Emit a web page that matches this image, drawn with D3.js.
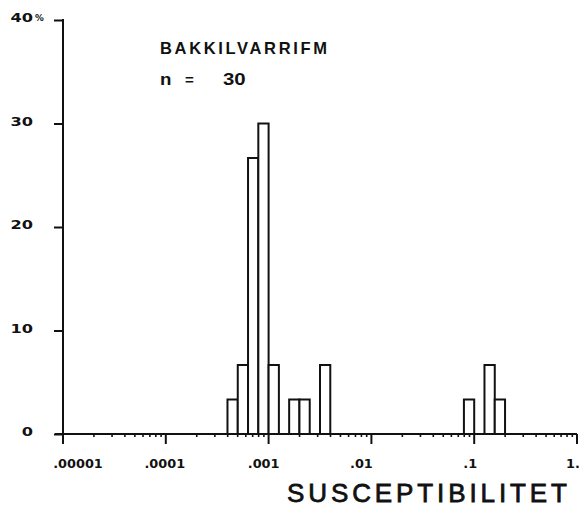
<!DOCTYPE html>
<html><head><meta charset="utf-8">
<script src="https://cdn.jsdelivr.net/npm/d3@7"></script>
<style>
html,body{margin:0;padding:0;background:#fff;}
svg{display:block;}
</style></head>
<body>
<script>
// ---- data ----
const sampleN = 30;
const binExponent = [-3.4, -3.3, -3.2, -3.1, -3.0, -2.8, -2.7, -2.5, -1.1, -0.9, -0.8];
const binCount    = [1, 2, 8, 9, 2, 1, 1, 2, 1, 2, 1];
const binWidthDec = 0.1;
const yTickValues = [0, 10, 20, 30, 40];
const xTickValues = [1e-5, 1e-4, 1e-3, 1e-2, 1e-1, 1];
const xTickLabels = [".00001", ".0001", ".001", ".01", ".1", "1."];
const titleText = "BAKKILVARRIFM";
const xTitleText = "SUSCEPTIBILITET";

// ---- chart ----
const W = 585, H = 510;
const ink = "#111";
const svg = d3.select("body").append("svg").attr("width", W).attr("height", H);

const x = d3.scaleLog().domain([1e-5, 1]).range([63, 577]);
const y = d3.scaleLinear().domain([0, 40]).range([434, 20]);

const bins = binExponent.map((e, i) => ({e, pct: binCount[i] / sampleN * 100}));

function wideText(g, px, py, str, opts) {
  const t = g.append("text")
    .attr("transform", `translate(${px},${py}) scale(${opts.sx || 1},1)`)
    .attr("text-anchor", opts.anchor || "start")
    .attr("font-family", opts.family || "DejaVu Sans")
    .attr("font-weight", opts.weight || "bold")
    .attr("font-size", opts.size || 12)
    .attr("fill", ink)
    .text(str);
  if (opts.ls) t.attr("letter-spacing", opts.ls);
  return t;
}

// bars
svg.append("g").selectAll("rect").data(bins).join("rect")
  .attr("x", d => x(Math.pow(10, d.e)))
  .attr("width", d => x(Math.pow(10, d.e + binWidthDec)) - x(Math.pow(10, d.e)))
  .attr("y", d => y(d.pct))
  .attr("height", d => y(0) - y(d.pct))
  .attr("fill", "#fff").attr("stroke", ink).attr("stroke-width", 2);

// y axis
const yAxis = d3.axisLeft(y).tickValues(yTickValues).tickSize(9).tickFormat("").tickSizeOuter(0);
const gy = svg.append("g").attr("transform", `translate(${x(1e-5)},0)`).call(yAxis);
gy.select(".domain").remove();
gy.selectAll("line").attr("stroke", ink).attr("stroke-width", 2);
svg.append("line").attr("x1", x(1e-5)).attr("x2", x(1e-5)).attr("y1", y(40) - 1).attr("y2", y(0) + 10)
  .attr("stroke", ink).attr("stroke-width", 2);

const yLab = svg.append("g");
yTickValues.forEach(v => {
  wideText(yLab, 33, y(v) + 2, String(v), {anchor: "end", size: 12, sx: 1.35});
});
wideText(yLab, 35, y(40) + 1, "%", {size: 8, sx: 1.1});

// x axis
const minorTicks = x.ticks().filter(v => !xTickValues.includes(v));
const gx = svg.append("g").attr("transform", `translate(0,${y(0)})`);
gx.append("line").attr("x1", x(1e-5) - 8).attr("x2", x(1)).attr("stroke", ink).attr("stroke-width", 2);
gx.selectAll("line.minor").data(minorTicks).join("line").attr("class", "minor")
  .attr("x1", d => x(d)).attr("x2", d => x(d)).attr("y1", 0).attr("y2", 3)
  .attr("stroke", ink).attr("stroke-width", 1.6);
gx.selectAll("line.major").data(xTickValues.slice(1)).join("line").attr("class", "major")
  .attr("x1", d => x(d)).attr("x2", d => x(d)).attr("y1", 0).attr("y2", 10)
  .attr("stroke", ink).attr("stroke-width", 2);

const labelNudge = [15, -1, -5, -10, -4, -4];
xTickValues.forEach((d, i) => {
  wideText(gx, x(d) + labelNudge[i], 34, xTickLabels[i], {anchor: "middle", size: 11.5, sx: 1.12});
});

// annotations
svg.append("text").attr("x", 160).attr("y", 54)
  .attr("font-family", "Liberation Sans").attr("font-weight", "bold").attr("font-size", 16.5)
  .attr("textLength", 167).attr("lengthAdjust", "spacing")
  .attr("fill", ink).text(titleText);
const nG = svg.append("g");
wideText(nG, 160, 85, "n", {family: "Liberation Sans", size: 17, sx: 1.1});
wideText(nG, 185, 85, "=", {family: "Liberation Sans", size: 15, sx: 1.0});
wideText(nG, 223, 85, String(sampleN), {family: "Liberation Sans", size: 17, sx: 1.2});

svg.append("text").attr("x", 287).attr("y", 502)
  .attr("font-family", "Liberation Sans").attr("font-size", 26)
  .attr("stroke", ink).attr("stroke-width", 0.8)
  .attr("textLength", 280).attr("lengthAdjust", "spacing")
  .attr("fill", ink).text(xTitleText);
</script>
</body></html>
